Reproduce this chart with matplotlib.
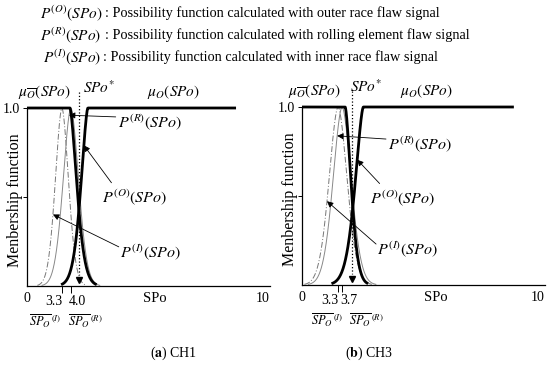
import numpy as np
import matplotlib
matplotlib.use('Agg')
import matplotlib.pyplot as plt

plt.rcParams['font.family'] = ['Liberation Serif', 'DejaVu Serif']
plt.rcParams['mathtext.fontset'] = 'stix'

W, H = 550, 370

# ---------------- data (schematic axis units, x: 0..10, y: 0..1) ----------------
panels = ['CH1', 'CH3']
panel_letters = ['a', 'b']
# membership functions mu_Obar (plateau then drop) and mu_O (rise then plateau)
mu_low_end = [1.82, 1.83]
mu_low_width = [0.42, 0.36]
mu_high_start = [2.58, 2.60]
mu_high_width = [0.42, 0.50]
mu_high_end = [8.86, 8.98]
# possibility functions (peak positions are the SP_O values)
pI_peak = [1.48, 1.53]
pI_width = [0.40, 0.55]
pR_peak = [1.86, 1.70]
pR_width = [0.47, 0.55]
spo_star = [2.20, 2.13]
tick_I_labels = ['3.3', '3.3']
tick_R_labels = ['4.0', '3.7']
# arrow targets (x on the curves)
arrow_R_x = [1.78, 1.49]
arrow_O_x = [2.41, 2.34]
arrow_I_x = [1.10, 1.06]

header_math = [r'$P^{(O)}(SPo)$', r'$P^{(R)}(SPo)$', r'$P^{(I)}(SPo)$']
header_text = [': Possibility function calculated with outer race flaw signal',
               ': Possibility function calculated with rolling element flaw signal',
               ': Possibility function calculated with inner race flaw signal']

# ---------------- layout ----------------
fig = plt.figure(figsize=(5.5, 3.7), dpi=100)
ax_left_px = [27, 302]
ax_base_px = [286, 285]
ax_w_px, ax_h_px = 243, 178
XMAX = 10.3

def shape(d, s, p=1.6):
    return np.exp(-(np.abs(d) / s) ** p)

def mu_low(x, i):
    return np.where(x <= mu_low_end[i], 1.0, shape(x - mu_low_end[i], mu_low_width[i]))

def mu_high(x, i):
    return np.where(x >= mu_high_start[i], 1.0, shape(mu_high_start[i] - x, mu_high_width[i]))

def bell(x, c, s):
    return shape(x - c, s, 1.8)

for i in range(2):
    ax = fig.add_axes([ax_left_px[i] / W, (H - ax_base_px[i]) / H, ax_w_px / W, ax_h_px / H])
    ax.set_xlim(0, XMAX)
    ax.set_ylim(0, 1.0)
    for sp in ['top', 'right']:
        ax.spines[sp].set_visible(False)
    for sp in ['left', 'bottom']:
        ax.spines[sp].set_linewidth(0.9)

    # thin possibility curves
    xi = np.linspace(pI_peak[i] - 2.6 * pI_width[i], pI_peak[i] + 2.6 * pI_width[i], 300)
    ax.plot(xi, bell(xi, pI_peak[i], pI_width[i]), color='#777777', lw=0.7,
            ls=(0, (6, 2, 1, 2)), clip_on=False)
    xr = np.linspace(pR_peak[i] - 2.6 * pR_width[i], pR_peak[i] + 2.6 * pR_width[i], 300)
    ax.plot(xr, bell(xr, pR_peak[i], pR_width[i]), color='#888888', lw=0.7, clip_on=False)

    # thick membership functions
    x1 = np.linspace(0, mu_low_end[i] + 2.7 * mu_low_width[i], 400)
    ax.plot(x1, mu_low(x1, i), color='black', lw=2.0, clip_on=False, solid_capstyle='butt')
    x2 = np.linspace(mu_high_start[i] - 2.7 * mu_high_width[i], mu_high_end[i], 600)
    ax.plot(x2, mu_high(x2, i), color='black', lw=2.0, clip_on=False, solid_capstyle='butt')

    # SPo* dotted marker
    ax.plot([spo_star[i], spo_star[i]], [1.09, 0.06], color='black', lw=0.9, ls=':', clip_on=False)
    ax.plot([spo_star[i]], [0.035], marker='v', ms=5, color='black', clip_on=False)

    # ticks
    ax.set_xticks([0, 10])
    ax.set_xticklabels(['0', '10'], fontsize=10)
    ax.tick_params(axis='x', which='major', length=0, pad=4)
    ax.set_xticks([pI_peak[i], pR_peak[i]], minor=True)
    ax.tick_params(axis='x', which='minor', length=5, width=0.7, direction='out')
    ax.set_yticks([0.5, 1.0])
    ax.set_yticklabels(['', '1.0'], fontsize=10)
    ax.tick_params(axis='y', length=3, width=0.7, pad=2)

    ax.text(pI_peak[i] + 0.02, -0.085, tick_I_labels[i], ha='right', va='center', fontsize=10)
    ax.text(pR_peak[i] - 0.08, -0.085, tick_R_labels[i], ha='left', va='center', fontsize=10)
    offI = [0.0, 0.22][i]
    offR = [-0.12, 0.28][i]
    ax.text(pI_peak[i] + offI, -0.15, r'$\overline{SP_{O}}^{\,(I)}$', ha='right', va='top', fontsize=9)
    ax.text(pR_peak[i] + offR, -0.15, r'$\overline{SP_{O}}^{\,(R)}$', ha='left', va='top', fontsize=9)
    ax.text([5.42, 5.66][i], -0.07, 'SPo', ha='center', va='center', fontsize=10.5)

    ax.set_ylabel('Menbership function', fontsize=11.5)
    ax.yaxis.set_label_coords([-0.018, -0.016][i], 0.48)

    # top labels
    ax.text([-0.38, -0.6][i], 1.09, r'$\mu_{\overline{O}}(SPo)$', ha='left', va='center', fontsize=11)
    ax.text(spo_star[i] + [0.17, -0.08][i], 1.115, r'$SPo^{*}$', ha='left', va='center', fontsize=11)
    ax.text([5.08, 4.17][i], 1.09, r'$\mu_{O}(SPo)$', ha='left', va='center', fontsize=11)

    # annotations
    arrow_kw = dict(arrowstyle='-|>', color='black', lw=0.6, mutation_scale=9, shrinkA=0, shrinkB=0)
    tipR = (arrow_R_x[i], float(bell(np.array(arrow_R_x[i]), pR_peak[i], pR_width[i])))
    tipO = (arrow_O_x[i], float(mu_high(np.array(arrow_O_x[i]), i)))
    tipI = (arrow_I_x[i], float(bell(np.array(arrow_I_x[i]), pI_peak[i], pI_width[i])))
    labR = [(3.86, 0.92), (3.66, 0.79)][i]
    labO = [(3.18, 0.50), (2.89, 0.49)][i]
    labI = [(3.94, 0.19), (3.19, 0.20)][i]
    ax.annotate('', xy=tipR, xytext=(labR[0] - 0.1, labR[1] + 0.03), arrowprops=arrow_kw, annotation_clip=False)
    ax.annotate('', xy=tipO, xytext=(labO[0] + 0.4, labO[1] + 0.08), arrowprops=arrow_kw, annotation_clip=False)
    ax.annotate('', xy=tipI, xytext=(labI[0] - 0.05, labI[1] + 0.03), arrowprops=arrow_kw, annotation_clip=False)
    ax.text(labR[0], labR[1], r'$P^{(R)}(SPo)$', ha='left', va='center', fontsize=11.5)
    ax.text(labO[0], labO[1], r'$P^{(O)}(SPo)$', ha='left', va='center', fontsize=11.5)
    ax.text(labI[0], labI[1], r'$P^{(I)}(SPo)$', ha='left', va='center', fontsize=11.5)

    # caption
    fig.text([174, 369][i] / W, 1 - 353 / H,
             r'(' + r'$\mathbf{' + panel_letters[i] + r'}$' + r') ' + panels[i],
             ha='center', va='center', fontsize=10)

# header
header_y = [13, 35, 57]
header_x = [40, 40, 43]
text_x = [105, 105, 103]
for k in range(3):
    fig.text(header_x[k] / W, 1 - header_y[k] / H, header_math[k], ha='left', va='center', fontsize=11)
    fig.text(text_x[k] / W, 1 - header_y[k] / H, header_text[k], ha='left', va='center', fontsize=10.3)

fig.savefig('out.png', dpi=100)
